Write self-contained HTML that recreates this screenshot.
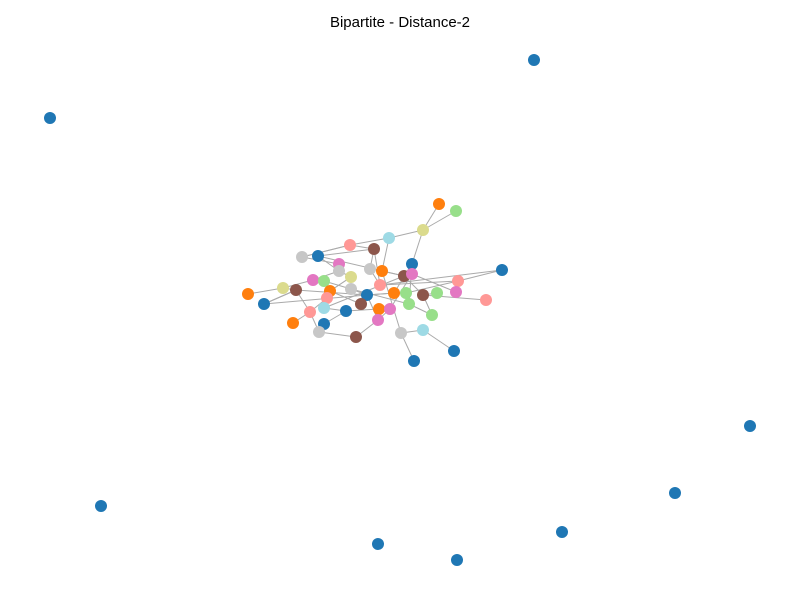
<!DOCTYPE html>
<html><head><meta charset="utf-8"><style>
body{margin:0;background:#fff;font-family:"Liberation Sans",sans-serif}
svg{display:block}
</style></head><body>
<svg id="chart" width="800" height="600">
<text x="400" y="27" text-anchor="middle" font-size="15" fill="#000" font-family="Liberation Sans, sans-serif">Bipartite - Distance-2</text>
<g id="edges"></g>
<g id="nodes"></g>
</svg>
<script>
const nodeX=[534,50,750,675,101,562,378,457,439,456,423,389,350,374,318,302,339,412,502,370,339,382,404,412,351,313,324,458,380,351,283,296,330,248,367,394,406,437,456,423,486,327,264,361,409,379,390,324,346,310,432,378,324,293,319,401,423,356,454,414];
const nodeY=[60,118,426,493,506,532,544,560,204,211,230,238,245,249,256,257,264,264,270,269,271,271,276,274,277,280,281,281,285,289,288,290,291,294,295,293,293,293,292,295,300,298,304,304,304,309,309,308,311,312,315,320,324,323,332,333,330,337,351,361];
const nodeColor=["#1f77b4","#1f77b4","#1f77b4","#1f77b4","#1f77b4","#1f77b4","#1f77b4","#1f77b4","#ff7f0e","#98df8a","#dbdb8d","#9edae5","#ff9896","#8c564b","#1f77b4","#c7c7c7","#e377c2","#1f77b4","#1f77b4","#c7c7c7","#c7c7c7","#ff7f0e","#8c564b","#e377c2","#dbdb8d","#e377c2","#98df8a","#ff9896","#ff9896","#c7c7c7","#dbdb8d","#8c564b","#ff7f0e","#ff7f0e","#1f77b4","#ff7f0e","#98df8a","#98df8a","#e377c2","#8c564b","#ff9896","#ff9896","#1f77b4","#8c564b","#98df8a","#ff7f0e","#e377c2","#9edae5","#1f77b4","#ff9896","#98df8a","#e377c2","#1f77b4","#ff7f0e","#c7c7c7","#c7c7c7","#9edae5","#8c564b","#1f77b4","#1f77b4"];
const edgeFrom=[8,9,10,10,11,11,12,15,14,15,14,16,13,13,17,17,17,18,27,27,21,21,21,23,23,22,39,39,39,44,55,55,56,35,34,34,43,32,32,41,49,49,54,54,57,51,51,48,48,48,45,47,31,30,30,31,31,42,42,25,26,26,31,29,36,20,24,12,19,28,14,34,22];
const edgeTo=[10,10,11,17,12,21,15,12,13,16,22,20,19,28,22,44,35,27,36,28,22,19,55,38,46,39,40,37,50,50,59,56,58,34,29,43,32,24,41,49,53,54,52,57,51,46,34,47,45,52,46,41,30,33,25,49,42,31,34,20,29,32,34,44,44,24,32,13,28,18,20,35,47];
const S="http://www.w3.org/2000/svg";
const eg=document.getElementById('edges'),ng=document.getElementById('nodes');
for(let i=0;i<edgeFrom.length;i++){
 const a=edgeFrom[i],b=edgeTo[i];
 const l=document.createElementNS(S,'line');
 l.setAttribute('x1',nodeX[a]);l.setAttribute('y1',nodeY[a]);
 l.setAttribute('x2',nodeX[b]);l.setAttribute('y2',nodeY[b]);
 l.setAttribute('stroke','#aaaaaa');l.setAttribute('stroke-width','1');
 
 
 eg.appendChild(l);
}
for(let i=0;i<nodeX.length;i++){
 const c=document.createElementNS(S,'circle');
 c.setAttribute('cx',nodeX[i]);c.setAttribute('cy',nodeY[i]);c.setAttribute('r','6');
 c.setAttribute('fill',nodeColor[i]);
 
 
 ng.appendChild(c);
}
</script>
</body></html>
